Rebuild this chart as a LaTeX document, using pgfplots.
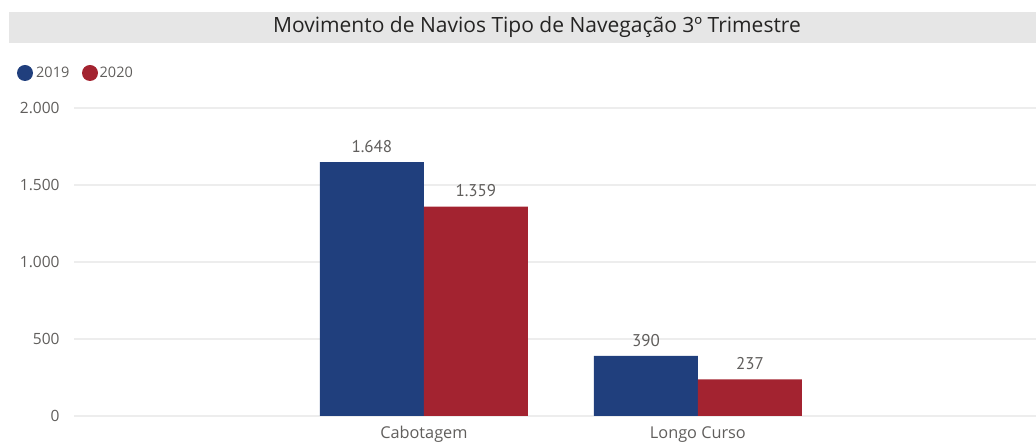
\documentclass[border=0pt]{standalone}
\usepackage{pgfplots}
\pgfplotsset{compat=1.18}
\usepackage{fontspec}
\setmainfont{Open Sans}
\newfontfamily\labfont{PT Sans}
\definecolor{cblue}{HTML}{203F7D}
\definecolor{cred}{HTML}{A32330}
\definecolor{txtgray}{HTML}{605E5C}
\definecolor{titlebg}{HTML}{E6E6E6}
\definecolor{titlefg}{HTML}{252423}
\definecolor{gridc}{HTML}{EDEDED}
\begin{document}
\begin{tikzpicture}[x=1bp,y=1bp]
\useasboundingbox (0,0) rectangle (1036,442);
% title bar
\fill[titlebg] (9,399) rectangle (1036,430);
\node[text=titlefg,font=\fontsize{21bp}{24bp}\selectfont] at (537,414.5) {Movimento de Navios Tipo de Navegação 3º Trimestre};
% legend
\fill[cblue] (25,369) circle (8);
\node[anchor=west,inner sep=0,text=txtgray,font=\fontsize{14.5bp}{18bp}\selectfont] at (36,369.5) {2019};
\fill[cred] (90,369) circle (8);
\node[anchor=west,inner sep=0,text=txtgray,font=\fontsize{14.5bp}{18bp}\selectfont] at (99.5,369.5) {2020};
\begin{axis}[
  at={(74bp,26bp)}, anchor=south west,
  width=962bp, height=308bp, scale only axis,
  xmin=-1.277, xmax=2.234, ymin=0, ymax=2000,
  ybar=0pt, bar width=104bp,
  axis line style={draw=none},
  major tick length=0pt,
  ymajorgrids, grid style={gridc, line width=1.2bp},
  ytick={0,500,1000,1500,2000},
  xtick={0,1}, xticklabels={Cabotagem,Longo Curso},
  /pgf/number format/.cd, 1000 sep={.}, assume math mode=true,
  /pgfplots/.cd,
  yticklabel style={text=txtgray,font=\fontsize{15.5bp}{18bp}\selectfont, xshift=-11bp},
  xticklabel style={text=txtgray,font=\fontsize{16.3bp}{19bp}\selectfont, yshift=-7bp},
  nodes near coords,
  every node near coord/.append style={text=txtgray,font=\labfont\fontsize{17bp}{20bp}\selectfont, yshift=6bp},
  clip=false,
]
\addplot[fill=cblue, draw=none] coordinates {(0,1648) (1,390)};
\addplot[fill=cred, draw=none] coordinates {(0,1359) (1,237)};
\end{axis}
\end{tikzpicture}
\end{document}
